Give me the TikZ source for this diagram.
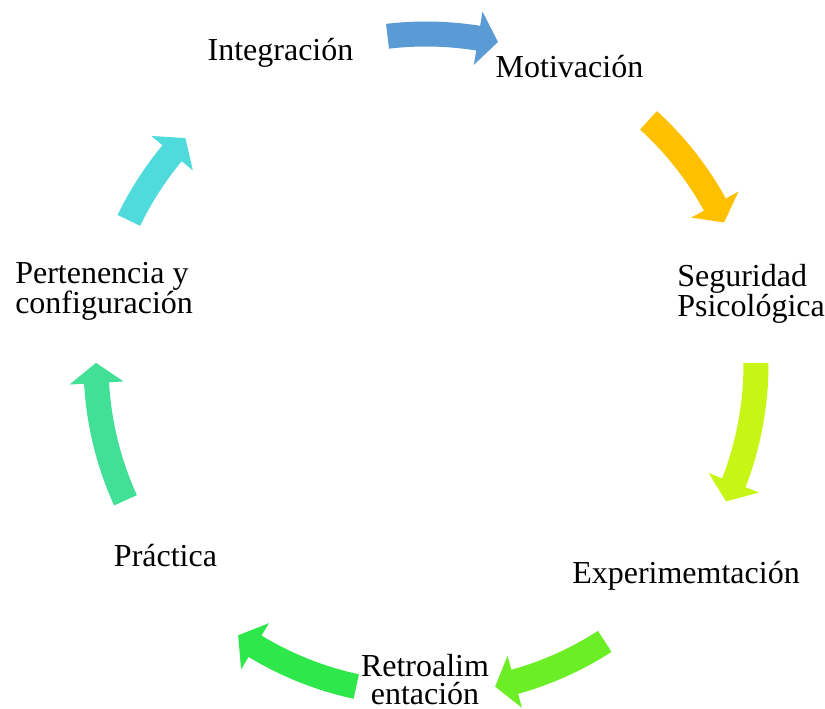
\documentclass[tikz,border=0pt]{standalone}
\usepackage{fontspec}
\setmainfont{Liberation Serif}
\usetikzlibrary{calc}
\definecolor{arrblue}{HTML}{5B9BD5}
\definecolor{arrorange}{HTML}{FFC000}
\definecolor{arryellow}{HTML}{C7F516}
\definecolor{arrlime}{HTML}{6BEE25}
\definecolor{arrgreen}{HTML}{2EE84B}
\definecolor{arrteal}{HTML}{41E096}
\definecolor{arrcyan}{HTML}{4FDBDB}
\tikzset{
    stage/.style={inner sep=0pt, font=\fontsize{24}{21}\selectfont},
}
\begin{document}
\begin{tikzpicture}[x=0.75pt, y=0.75pt]
    \useasboundingbox (0,0) rectangle (825,708);
    \coordinate (c) at (426,344);
    % stages (two-line ones sit on their last baseline)
    \node[stage, anchor=base] (integ) at (280.5,647) {Integración};
    \node[stage, anchor=base] (motiv) at (569.5,630) {Motivación};
    \node[stage, anchor=base west, align=left] (segur) at (677,391) {Seguridad\\Psicológica};
    \node[stage, anchor=base] (exper) at (686,125) {Experimemtación};
    \node[stage, anchor=base, align=center] (retro) at (425,4) {Retroalim\\entación};
    \node[stage, anchor=base] (pract) at (165.5,142) {Práctica};
    \node[stage, anchor=base west, align=left] (perten) at (15,394) {Pertenencia y\\configuración};
    % arrows
    \foreach \t/\b/\col in {96.7/80.9/arrblue, 47.6/28.9/arrorange, 0.2/-21.1/arryellow,
        -57.2/-74.4/arrlime, -102.2/-121.2/arrgreen, -155.6/-176.7/arrteal, 154.2/140.3/arrcyan}{
        \fill[\col] ($(c)+(\t:342.5)$) arc[start angle=\t, end angle=\b, radius=342.5]
            -- ($(c)+(\b:357)$) -- ($(c)+({\b-3.5}:330)$) -- ($(c)+(\b:303)$)
            -- ($(c)+(\b:317.5)$) arc[start angle=\b, end angle=\t, radius=317.5] -- cycle;
    }
\end{tikzpicture}
\end{document}
